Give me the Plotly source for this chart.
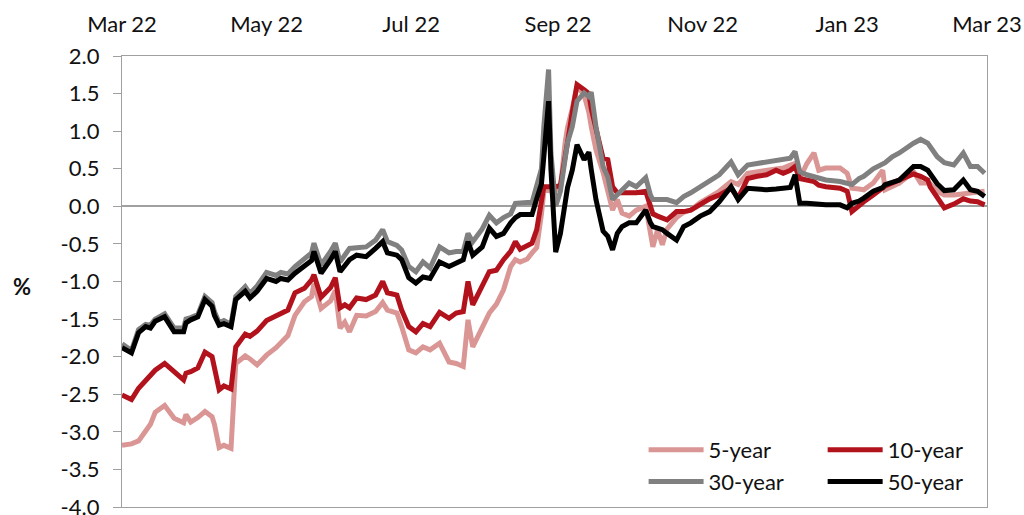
import pandas as pd
import plotly.graph_objects as go

# Observation dates shared by all four series
dates = [
    "2022-03-01", "2022-03-05", "2022-03-08", "2022-03-11", "2022-03-13", "2022-03-15",
    "2022-03-19", "2022-03-23", "2022-03-27", "2022-03-28", "2022-03-30", "2022-04-02",
    "2022-04-05", "2022-04-08", "2022-04-09", "2022-04-11", "2022-04-13", "2022-04-16",
    "2022-04-18", "2022-04-22", "2022-04-24", "2022-04-27", "2022-05-01", "2022-05-05",
    "2022-05-07", "2022-05-10", "2022-05-13", "2022-05-17", "2022-05-20", "2022-05-21",
    "2022-05-24", "2022-05-28", "2022-05-30", "2022-06-01", "2022-06-03", "2022-06-05",
    "2022-06-08", "2022-06-12", "2022-06-16", "2022-06-19", "2022-06-21", "2022-06-25",
    "2022-06-27", "2022-06-30", "2022-07-03", "2022-07-06", "2022-07-09", "2022-07-13",
    "2022-07-17", "2022-07-20", "2022-07-23", "2022-07-25", "2022-07-27", "2022-07-31",
    "2022-08-03", "2022-08-06", "2022-08-09", "2022-08-12", "2022-08-14", "2022-08-16",
    "2022-08-19", "2022-08-21", "2022-08-23", "2022-08-25", "2022-08-26", "2022-08-28",
    "2022-08-29", "2022-08-31", "2022-09-02", "2022-09-04", "2022-09-05", "2022-09-07",
    "2022-09-09", "2022-09-12", "2022-09-14", "2022-09-15", "2022-09-17", "2022-09-20",
    "2022-09-22", "2022-09-24", "2022-09-26", "2022-09-28", "2022-10-01", "2022-10-04",
    "2022-10-08", "2022-10-10", "2022-10-11", "2022-10-13", "2022-10-15", "2022-10-17",
    "2022-10-21", "2022-10-24", "2022-10-27", "2022-10-31", "2022-11-04", "2022-11-08",
    "2022-11-13", "2022-11-16", "2022-11-20", "2022-11-24", "2022-11-28", "2022-12-02",
    "2022-12-05", "2022-12-08", "2022-12-10", "2022-12-12", "2022-12-15", "2022-12-18",
    "2022-12-20", "2022-12-23", "2022-12-29", "2023-01-01", "2023-01-03", "2023-01-06",
    "2023-01-08", "2023-01-12", "2023-01-16", "2023-01-17", "2023-01-20", "2023-01-23",
    "2023-01-29", "2023-02-01", "2023-02-04", "2023-02-05", "2023-02-08", "2023-02-11",
    "2023-02-15", "2023-02-19", "2023-02-22", "2023-02-25", "2023-02-28",
]

# Real yields, %
yield_5y = [
    -3.18, -3.16, -3.12, -3.00, -2.90, -2.74, -2.65, -2.82, -2.88, -2.77, -2.87, -2.81,
    -2.73, -2.80, -2.90, -3.21, -3.18, -3.22, -2.09, -1.99, -2.03, -2.11, -1.98, -1.88,
    -1.82, -1.72, -1.45, -1.27, -1.20, -1.03, -1.36, -1.26, -1.12, -1.62, -1.54, -1.67,
    -1.45, -1.46, -1.40, -1.28, -1.38, -1.42, -1.60, -1.91, -1.95, -1.87, -1.91, -1.82,
    -2.07, -2.09, -2.13, -1.51, -1.87, -1.60, -1.42, -1.30, -1.11, -0.80, -0.71, -0.74,
    -0.70, -0.62, -0.55, -0.10, 0.20, 0.22, 0.20, 0.22, 0.25, 0.85, 1.05, 1.30,
    1.60, 1.48, 1.25, 1.06, 0.75, 0.45, 0.22, -0.05, 0.09, -0.09, -0.13, -0.05,
    0.00, -0.36, -0.54, -0.31, -0.51, -0.30, -0.15, -0.08, -0.05, 0.05, 0.12, 0.20,
    0.33, 0.29, 0.44, 0.46, 0.48, 0.50, 0.51, 0.55, 0.57, 0.37, 0.57, 0.71,
    0.48, 0.51, 0.51, 0.44, 0.24, 0.23, 0.22, 0.31, 0.48, 0.22, 0.27, 0.31,
    0.46, 0.31, 0.31, 0.30, 0.20, 0.15, 0.15, 0.17, 0.18, 0.19, 0.20,
]
yield_10y = [
    -2.51, -2.57, -2.42, -2.32, -2.25, -2.18, -2.09, -2.20, -2.31, -2.22, -2.20, -2.15,
    -1.94, -2.00, -2.13, -2.44, -2.39, -2.43, -1.87, -1.70, -1.73, -1.66, -1.52, -1.46,
    -1.42, -1.38, -1.15, -1.09, -0.98, -0.91, -1.21, -1.08, -0.95, -1.35, -1.31, -1.35,
    -1.22, -1.24, -1.18, -1.00, -1.15, -1.18, -1.38, -1.60, -1.67, -1.56, -1.60, -1.41,
    -1.49, -1.42, -1.40, -1.00, -1.31, -1.07, -0.87, -0.85, -0.71, -0.60, -0.47, -0.57,
    -0.53, -0.49, -0.31, 0.05, 0.26, 0.26, 0.26, 0.26, 0.28, 0.62, 0.85, 1.25,
    1.62, 1.55, 1.50, 1.30, 1.06, 0.64, 0.62, 0.26, 0.18, 0.18, 0.18, 0.18,
    0.20, 0.00, -0.10, -0.13, -0.16, -0.18, -0.07, -0.07, -0.05, 0.02, 0.10, 0.15,
    0.24, 0.11, 0.37, 0.40, 0.42, 0.48, 0.44, 0.48, 0.53, 0.37, 0.35, 0.33,
    0.28, 0.26, 0.24, 0.20, -0.07, 0.02, 0.06, 0.15, 0.24, 0.27, 0.31, 0.35,
    0.43, 0.40, 0.35, 0.26, 0.13, -0.02, 0.03, 0.10, 0.07, 0.06, 0.02,
]
yield_30y = [
    -1.83, -1.92, -1.64, -1.57, -1.58, -1.50, -1.43, -1.62, -1.62, -1.50, -1.48, -1.44,
    -1.20, -1.28, -1.40, -1.55, -1.52, -1.57, -1.20, -1.07, -1.16, -1.06, -0.88, -0.92,
    -0.88, -0.90, -0.80, -0.70, -0.62, -0.49, -0.78, -0.60, -0.49, -0.74, -0.66, -0.56,
    -0.55, -0.54, -0.45, -0.31, -0.47, -0.52, -0.58, -0.80, -0.87, -0.74, -0.82, -0.54,
    -0.62, -0.60, -0.60, -0.36, -0.47, -0.30, -0.12, -0.22, -0.15, -0.10, 0.04, 0.05,
    0.05, 0.05, 0.25, 0.50, 1.06, 1.82, 0.71, 0.00, 0.20, 0.70, 0.85, 1.06,
    1.40, 1.51, 1.46, 1.52, 1.06, 0.53, 0.39, 0.09, 0.15, 0.22, 0.31, 0.26,
    0.38, 0.15, 0.09, 0.09, 0.09, 0.09, 0.05, 0.13, 0.18, 0.26, 0.33, 0.42,
    0.59, 0.42, 0.55, 0.57, 0.59, 0.62, 0.62, 0.64, 0.73, 0.46, 0.42, 0.39,
    0.37, 0.35, 0.33, 0.30, 0.29, 0.37, 0.40, 0.50, 0.57, 0.58, 0.66, 0.71,
    0.84, 0.89, 0.84, 0.80, 0.66, 0.58, 0.55, 0.71, 0.53, 0.53, 0.44,
]
yield_50y = [
    -1.88, -1.95, -1.68, -1.60, -1.62, -1.53, -1.47, -1.67, -1.67, -1.55, -1.51, -1.47,
    -1.24, -1.33, -1.45, -1.58, -1.56, -1.60, -1.24, -1.13, -1.22, -1.13, -0.96, -1.00,
    -0.96, -0.98, -0.89, -0.80, -0.72, -0.60, -0.89, -0.71, -0.60, -0.87, -0.78, -0.71,
    -0.65, -0.67, -0.56, -0.47, -0.62, -0.65, -0.71, -0.95, -1.02, -0.94, -0.96, -0.74,
    -0.80, -0.76, -0.71, -0.47, -0.65, -0.54, -0.29, -0.40, -0.36, -0.22, -0.15, -0.11,
    -0.11, -0.11, 0.10, 0.30, 0.66, 1.40, 0.49, -0.61, -0.36, 0.00, 0.25, 0.48,
    0.82, 0.62, 0.72, 0.49, 0.09, -0.33, -0.40, -0.58, -0.36, -0.27, -0.22, -0.22,
    -0.05, -0.22, -0.27, -0.29, -0.31, -0.36, -0.45, -0.27, -0.22, -0.13, -0.07, 0.06,
    0.26, 0.09, 0.24, 0.23, 0.22, 0.23, 0.24, 0.25, 0.42, 0.04, 0.04, 0.03,
    0.04, 0.02, 0.02, -0.02, 0.04, 0.07, 0.11, 0.20, 0.25, 0.29, 0.32, 0.35,
    0.53, 0.53, 0.48, 0.44, 0.30, 0.21, 0.22, 0.35, 0.22, 0.20, 0.13,
]

series_names = ["5-year", "10-year", "30-year", "50-year"]
series_colors = ["#DA9694", "#B2121B", "#808080", "#000000"]
series_legend = ["legend", "legend2", "legend", "legend2"]

y_ticks = [-4.0, -3.5, -3.0, -2.5, -2.0, -1.5, -1.0, -0.5, 0.0, 0.5, 1.0, 1.5, 2.0]
y_tick_text = ["-4.0", "-3.5", "-3.0", "-2.5", "-2.0", "-1.5", "-1.0", "-0.5",
               "0.0", "0.5", "1.0", "1.5", "2.0"]
x_range = ["2022-03-01", "2023-03-01"]

FONT = "Lato, 'Open Sans', sans-serif"
TEXT = "#111111"
AXIS = "#A0A0A0"

x = pd.to_datetime(dates)
fig = go.Figure()
for name, vals, color, leg in zip(series_names,
                                  [yield_5y, yield_10y, yield_30y, yield_50y],
                                  series_colors, series_legend):
    fig.add_trace(go.Scatter(
        x=x, y=vals, mode="lines", name=name, legend=leg, legendgroup=name,
        line=dict(color=color, width=5),
    ))

legend_common = dict(
    font=dict(family=FONT, size=22, color=TEXT),
    bgcolor="rgba(0,0,0,0)", borderwidth=0,
    xanchor="left", yanchor="top", tracegroupgap=0, itemwidth=55,
)

fig.update_layout(
    width=1024, height=515,
    margin=dict(l=122, r=37, t=56, b=8, autoexpand=False),
    paper_bgcolor="white", plot_bgcolor="white",
    font=dict(family=FONT, size=22, color=TEXT),
    legend=dict(x=0.603, y=0.173, **legend_common),
    legend2=dict(x=0.810, y=0.173, **legend_common),
    xaxis=dict(
        type="date", range=x_range, side="top",
        tick0="2022-03-01", dtick="M2", tickformat="%b %y",
        ticks="", showgrid=False, zeroline=False,
        showline=True, mirror=True, linecolor=AXIS, linewidth=1.2,
        tickfont=dict(family=FONT, size=22, color=TEXT),
        ticklabelstandoff=14,
    ),
    # tick marks sitting on the zero line
    xaxis2=dict(
        type="date", range=x_range, overlaying="x", matches="x",
        anchor="free", position=(0 - y_ticks[0]) / (y_ticks[-1] - y_ticks[0]),
        tick0="2022-03-01", dtick="M2", side="bottom",
        ticks="outside", ticklen=6, tickwidth=1.2, tickcolor=AXIS,
        showticklabels=False, showgrid=False, showline=False, zeroline=False,
    ),
    yaxis=dict(
        range=[y_ticks[0], y_ticks[-1]], tickvals=y_ticks, ticktext=y_tick_text,
        ticks="outside", ticklen=8, tickwidth=1.2, tickcolor=AXIS,
        showgrid=False, zeroline=True, zerolinecolor=AXIS, zerolinewidth=1.5,
        showline=True, mirror=True, linecolor=AXIS, linewidth=1.2,
        tickfont=dict(family=FONT, size=22, color=TEXT),
        ticklabelstandoff=9, ticklabeloverflow="allow",
    ),
    annotations=[dict(
        text="<b>%</b>", xref="paper", yref="paper", x=-0.116, y=0.488,
        xanchor="center", yanchor="middle", showarrow=False,
        font=dict(family=FONT, size=22, color=TEXT),
    )],
)

fig.write_html("out.html")
